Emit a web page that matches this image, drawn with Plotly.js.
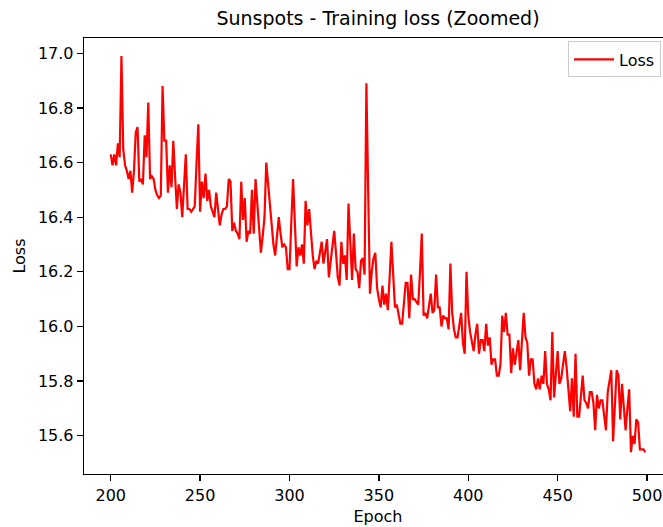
<!DOCTYPE html>
<html>
<head>
<meta charset="utf-8">
<script src="https://cdn.plot.ly/plotly-3.0.1.min.js"></script>
<style>html,body{margin:0;padding:0;overflow:hidden;background:#fff}</style>
</head>
<body>
<div id="chart" style="width:672px;height:527px"></div>
<script>
// Training loss per epoch, epochs 200..499
const firstEpoch = 200;
const lossValues = [
  16.63,16.59,16.63,16.59,16.67,16.62,16.99,16.65,16.59,16.57,
  16.54,16.57,16.49,16.57,16.71,16.73,16.53,16.54,16.52,16.70,
  16.62,16.82,16.54,16.55,16.54,16.50,16.48,16.47,16.48,16.88,
  16.68,16.68,16.49,16.59,16.51,16.68,16.55,16.43,16.52,16.49,
  16.40,16.52,16.63,16.43,16.43,16.42,16.43,16.44,16.60,16.74,
  16.42,16.53,16.47,16.56,16.46,16.50,16.44,16.42,16.40,16.49,
  16.43,16.37,16.41,16.43,16.43,16.44,16.54,16.53,16.35,16.38,
  16.35,16.34,16.32,16.53,16.39,16.47,16.31,16.35,16.34,16.50,
  16.34,16.54,16.45,16.36,16.27,16.33,16.40,16.60,16.52,16.44,
  16.37,16.30,16.26,16.33,16.40,16.34,16.29,16.30,16.29,16.21,
  16.21,16.38,16.54,16.38,16.22,16.29,16.26,16.30,16.23,16.46,
  16.37,16.43,16.34,16.26,16.21,16.24,16.23,16.27,16.31,16.23,
  16.28,16.32,16.18,16.24,16.30,16.35,16.27,16.18,16.15,16.31,
  16.23,16.26,16.17,16.45,16.31,16.17,16.34,16.21,16.20,16.14,
  16.24,16.25,16.19,16.89,16.50,16.12,16.20,16.25,16.27,16.14,
  16.10,16.07,16.15,16.08,16.12,16.06,16.18,16.31,16.19,16.07,
  16.08,16.05,16.01,16.01,16.09,16.16,16.16,16.03,16.19,16.10,
  16.10,16.09,16.08,16.20,16.34,16.04,16.05,16.03,16.07,16.12,
  16.05,16.06,16.19,16.07,16.07,16.00,16.04,16.03,16.03,15.99,
  16.23,16.05,15.99,15.96,15.96,16.01,16.05,15.94,15.90,16.20,
  16.04,15.98,15.94,15.91,15.97,16.01,15.90,15.95,15.95,15.91,
  16.01,15.93,15.96,15.86,15.88,15.88,15.82,15.82,15.86,16.04,
  15.98,16.05,15.97,15.97,15.83,15.92,15.86,15.90,15.95,15.84,
  15.95,16.05,15.96,15.94,15.82,15.88,15.88,15.79,15.77,15.81,
  15.77,15.82,15.79,15.91,15.79,15.77,15.73,15.98,15.74,15.82,
  15.91,15.79,15.81,15.86,15.91,15.85,15.76,15.69,15.81,15.67,
  15.90,15.67,15.67,15.75,15.82,15.73,15.72,15.70,15.76,15.76,
  15.72,15.62,15.75,15.70,15.73,15.73,15.67,15.62,15.76,15.80,
  15.84,15.58,15.72,15.84,15.82,15.66,15.79,15.70,15.62,15.70,
  15.77,15.54,15.60,15.57,15.66,15.65,15.55,15.55,15.55,15.54
];
const epochs = lossValues.map((_, i) => firstEpoch + i);

const xTickVals = [200, 250, 300, 350, 400, 450, 500];
const yTickVals = [15.6, 15.8, 16.0, 16.2, 16.4, 16.6, 16.8, 17.0];
const yTickText = ['15.6', '15.8', '16.0', '16.2', '16.4', '16.6', '16.8', '17.0'];

const FONT = 'DejaVu Sans, sans-serif';

const trace = {
  x: epochs,
  y: lossValues,
  type: 'scatter',
  mode: 'lines',
  name: 'Loss',
  line: {color: '#ff0000', width: 2.2}
};

const layout = {
  width: 672,
  height: 527,
  margin: {l: 84, r: 0, t: 38, b: 53, pad: 0},
  paper_bgcolor: '#ffffff',
  plot_bgcolor: '#ffffff',
  font: {family: FONT, size: 16, color: '#000000'},
  title: {
    text: 'Sunspots - Training loss (Zoomed)',
    font: {family: FONT, size: 19, color: '#000000'},
    x: 0.5, xref: 'paper', xanchor: 'center',
    y: 1 - 18 / 527, yref: 'container', yanchor: 'middle'
  },
  xaxis: {
    range: [185.05, 513.95],
    tickmode: 'array',
    tickvals: xTickVals,
    ticks: 'outside', ticklen: 6, tickwidth: 1.3, tickcolor: '#000',
    showline: true, linecolor: '#000', linewidth: 1.3, mirror: true,
    showgrid: false, zeroline: false,
    tickfont: {family: FONT, size: 16, color: '#000'},
    title: {text: 'Epoch', font: {family: FONT, size: 16, color: '#000'}, standoff: 7},
    automargin: false
  },
  yaxis: {
    range: [15.46, 17.056],
    tickmode: 'array',
    tickvals: yTickVals,
    ticktext: yTickText,
    ticks: 'outside', ticklen: 6, tickwidth: 1.3, tickcolor: '#000',
    showline: true, linecolor: '#000', linewidth: 1.3, mirror: true,
    showgrid: false, zeroline: false,
    tickfont: {family: FONT, size: 16, color: '#000'},
    title: {text: 'Loss', font: {family: FONT, size: 16, color: '#000'}, standoff: 8},
    automargin: false
  },
  showlegend: true,
  legend: {
    x: 0.9813, xanchor: 'right', xref: 'paper',
    y: 0.992, yanchor: 'top', yref: 'paper',
    itemwidth: 40,
    bgcolor: 'rgba(255,255,255,0.8)',
    bordercolor: '#cccccc', borderwidth: 1,
    font: {family: FONT, size: 16, color: '#000'}
  }
};

Plotly.newPlot('chart', [trace], layout, {displayModeBar: false, staticPlot: true});
</script>
</body>
</html>
